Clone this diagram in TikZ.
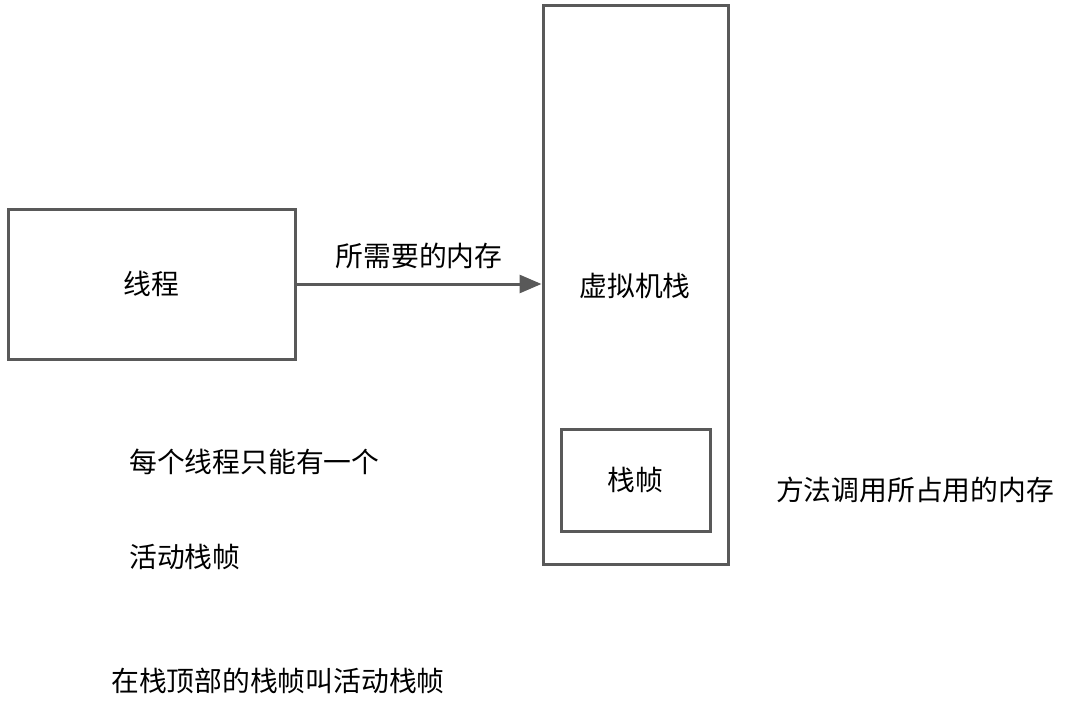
\documentclass[tikz,border=0pt]{standalone}
\usepackage{fontspec}
\newfontfamily\cjk{Noto Sans CJK SC}
\usetikzlibrary{arrows.meta}
\definecolor{linegray}{HTML}{595959}
\begin{document}
\begin{tikzpicture}[x=1pt,y=-1pt,
  box/.style={draw=linegray,line width=3pt,inner sep=0pt},
  txt/.style={font=\cjk\fontsize{27.8}{32}\selectfont,text=black,inner sep=0pt}]
\useasboundingbox (0,0) rectangle (1072,717);
\node[box,minimum width=287pt,minimum height=150pt] (thread) at (151.5,284) {};
\node[txt] at (thread.center) {线程};
\node[box,minimum width=185pt,minimum height=558pt] (stack) at (635.5,285) {};
\node[txt] (stacklabel) at (635,286) {虚拟机栈};
\node[box,minimum width=149pt,minimum height=102pt] (frame) at (635.5,480) {};
\node[txt] at (frame.center) {栈帧};
\draw[draw=linegray,line width=3pt,-{Triangle[length=22pt,width=18pt]}] (thread.east) -- (stack.west |- thread.east)
  node[midway,above=14pt,txt] {所需要的内存};
\node[txt] (method) at (915,490) {方法调用所占用的内存};
\node[txt,anchor=west] (each) at (129,462) {每个线程只能有一个};
\node[txt,anchor=west] (active) at (129,557) {活动栈帧};
\node[txt,anchor=west] (top) at (111,681) {在栈顶部的栈帧叫活动栈帧};
\end{tikzpicture}
\end{document}
